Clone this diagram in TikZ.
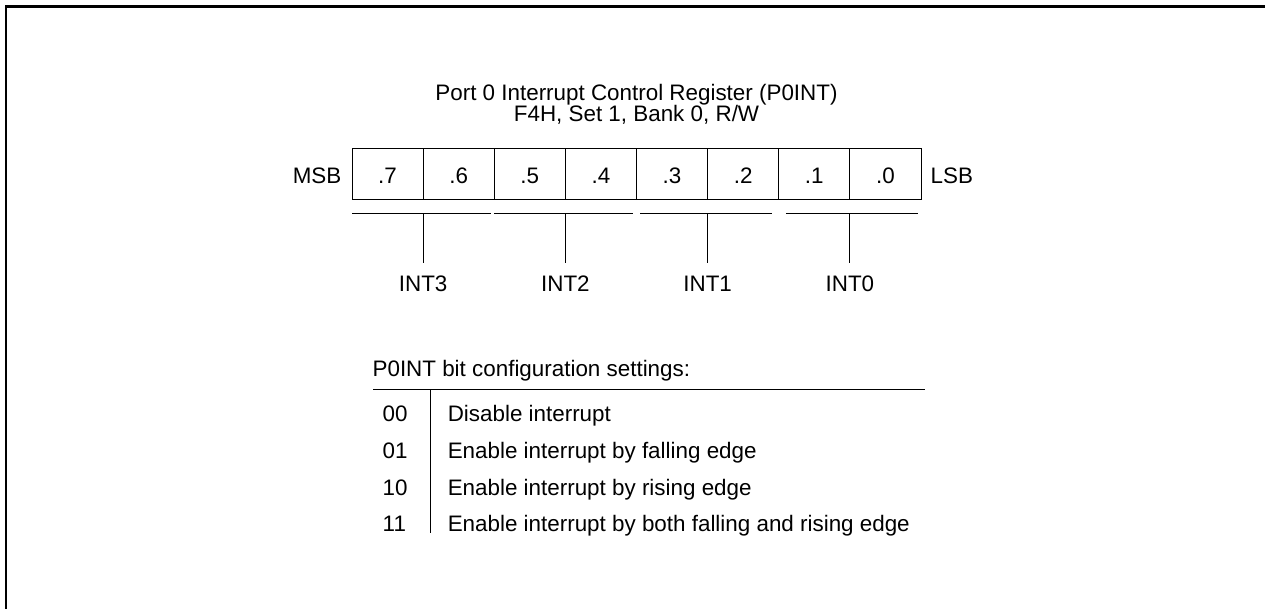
\documentclass[tikz,border=0pt]{standalone}
\usepackage{fontspec}
\setmainfont{Liberation Sans}
\usetikzlibrary{positioning}

\begin{document}
\begin{tikzpicture}[
        x=1pt, y=-1pt,
        font=\fontsize{22.4}{21}\selectfont,
        bitcell/.style={rectangle, draw, line width=1pt, minimum width=71.125pt, minimum height=50.3pt, inner sep=0pt, outer sep=0pt, text height=18pt, text depth=0pt},
        side/.style={inner sep=0pt, text height=18pt, text depth=0pt},
        group/.style={inner sep=0pt, text height=16pt, text depth=0pt},
        textline/.style={anchor=base west, inner sep=0pt},
        rule/.style={line width=1pt}
    ]
        \useasboundingbox (0,0) rectangle (1265,609);
        \draw[line width=2.4pt] (6,609) -- (6,6.5) -- (1265,6.5);

        \node[anchor=base, inner sep=0pt] (title) at (636.5,100.5) {Port 0 Interrupt Control Register (P0INT)};
        \node[anchor=base, inner sep=0pt] (addr) at (636.5,122) {F4H, Set 1, Bank 0, R/W};

        \node[bitcell, anchor=north west] (b7) at (352,149) {.7};
        \node[bitcell, right=0pt of b7] (b6) {.6};
        \node[bitcell, right=0pt of b6] (b5) {.5};
        \node[bitcell, right=0pt of b5] (b4) {.4};
        \node[bitcell, right=0pt of b4] (b3) {.3};
        \node[bitcell, right=0pt of b3] (b2) {.2};
        \node[bitcell, right=0pt of b2] (b1) {.1};
        \node[bitcell, right=0pt of b1] (b0) {.0};
        \node[side, left=10.5pt of b7] (msb) {MSB};
        \node[side, right=9.5pt of b0] (lsb) {LSB};

        % bit groups
        \draw[rule] ([yshift=-14pt]b7.south west) -- ([xshift=-3.5pt,yshift=-14pt]b6.south east);
        \draw[rule] ([yshift=-14pt]b5.south west) -- ([xshift=-4pt,yshift=-14pt]b4.south east);
        \draw[rule] ([xshift=3.5pt,yshift=-14pt]b3.south west) -- ([xshift=-7pt,yshift=-14pt]b2.south east);
        \draw[rule] ([xshift=7pt,yshift=-14pt]b1.south west) -- ([xshift=-3pt,yshift=-14pt]b0.south east);

        \coordinate[below=14pt of b7.south east] (t3);
        \coordinate[below=14pt of b5.south east] (t2);
        \coordinate[below=14pt of b3.south east] (t1);
        \coordinate[below=14pt of b1.south east] (t0);
        \node[group, below=61.7pt of t3] (int3) {INT3};
        \node[group, below=61.7pt of t2] (int2) {INT2};
        \node[group, below=61.7pt of t1] (int1) {INT1};
        \node[group, below=61.7pt of t0] (int0) {INT0};
        \draw[rule, shorten >=11.7pt] (t3) -- (int3);
        \draw[rule, shorten >=11.7pt] (t2) -- (int2);
        \draw[rule, shorten >=11.7pt] (t1) -- (int1);
        \draw[rule, shorten >=11.7pt] (t0) -- (int0);

        % settings table
        \node[textline] (head) at (372.4,376.7) {P0INT bit configuration settings:};
        \draw[rule] (373,389.3) -- (925,389.3);
        \draw[rule] (430,389.3) -- (430,532.7);

        \node[textline] (c00) at (382.5,421.7) {00};
        \node[textline] (c01) at (382.5,458.3) {01};
        \node[textline] (c10) at (382.5,495) {10};
        \node[textline] (c11) at (382.5,531.7) {11};
        \node[textline] (d00) at (447.6,421.7) {Disable interrupt};
        \node[textline] (d01) at (447.6,458.3) {Enable interrupt by falling edge};
        \node[textline] (d10) at (447.6,495) {Enable interrupt by rising edge};
        \node[textline] (d11) at (447.6,531.7) {Enable interrupt by both falling and rising edge};
\end{tikzpicture}
\end{document}
